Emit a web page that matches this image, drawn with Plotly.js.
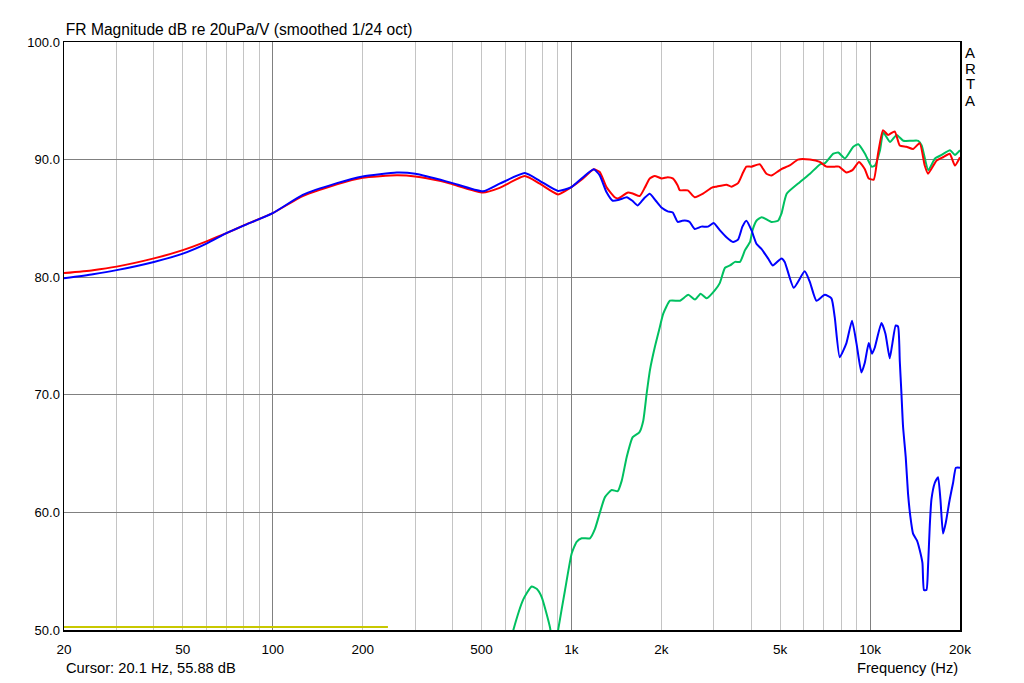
<!DOCTYPE html>
<html>
<head>
<meta charset="utf-8">
<script src="https://cdn.plot.ly/plotly-3.0.1.min.js"></script>
<style>
  html, body { margin: 0; padding: 0; background: #ffffff; }
  #chart { width: 1024px; height: 683px; }
</style>
</head>
<body>
<div id="chart"></div>
<script>
// ---- data ----
const redFreq = [20,25,30,40,50,60,70,80,100,126,164,200,260,300,362,400,506,575,698,783,902,1000,1094,1188,1244,1310,1396,1432,1547,1610,1693,1760,1829,1900,2006,2101,2184,2269,2304,2452,2587,2758,2943,3058,3304,3433,3613,3755,3854,4006,4270,4497,4673,4917,5048,5382,5737,6285,6787,7142,7614,7870,8332,8727,9183,9595,9896,10284,10631,11049,11483,12093,12571,13233,13925,14660,15238,15632,16679,17546,18475,19232,20000];
const redDb = [80.35,80.6,80.9,81.6,82.3,83.05,83.75,84.4,85.45,86.9,87.9,88.45,88.66,88.57,88.2,87.9,87.2,87.6,88.6,87.95,87.04,87.66,88.4,89.17,88.94,87.66,86.8,86.7,87.2,87.1,86.9,87.6,88.4,88.6,88.4,88.5,88.4,87.8,87.4,87.38,86.8,87.1,87.6,87.7,87.87,87.7,88.0,88.9,89.4,89.4,89.6,88.8,88.65,89.0,89.2,89.5,90.0,90.0,89.8,89.4,89.4,89.4,88.9,89.1,89.8,89.2,88.4,88.3,90.5,92.5,92.1,92.4,91.2,91.1,90.9,91.4,89.5,88.8,89.9,90.2,90.5,89.5,90.2];

const blueFreq = [20,25,30,40,50,60,70,80,100,126,164,200,260,300,362,400,506,575,698,783,902,1000,1094,1188,1244,1310,1375,1450,1532,1600,1667,1750,1829,1916,2006,2101,2184,2269,2350,2433,2489,2587,2724,2867,2995,3138,3304,3476,3613,3737,3854,4006,4163,4327,4553,4722,5048,5178,5551,6041,6285,6612,7049,7422,7614,7913,8332,8700,9000,9354,9595,9896,10150,10364,10914,11255,11635,11880,12186,12405,12571,12734,12893,13162,13397,13648,13925,14358,14660,14970,15156,15440,15632,15838,16048,16462,16884,17199,17546,17915,18475,18955,19380,20000];
const blueDb = [79.9,80.25,80.6,81.3,82.0,82.85,83.75,84.4,85.45,87.0,88.0,88.57,88.9,88.8,88.3,88.0,87.3,87.95,88.85,88.2,87.33,87.66,88.5,89.17,88.66,87.24,86.5,86.6,86.8,86.5,86.1,86.7,87.1,86.5,85.9,85.6,85.5,84.7,84.8,84.8,84.7,84.1,84.3,84.3,84.6,84.0,83.4,83.0,83.2,84.3,84.8,84.0,82.85,82.4,81.6,81.0,81.6,81.3,79.1,80.5,79.6,78.0,78.5,78.2,76.6,73.2,74.4,76.3,74.4,71.9,72.7,74.4,73.5,74.0,76.1,75.2,73.1,74.4,75.9,75.8,72.9,70.1,67.3,64.7,61.6,59.6,58.2,57.6,56.8,55.7,53.4,53.4,55.4,58.8,61.1,62.5,63.0,61.1,58.2,59.1,61.1,62.5,63.8,63.8];

const greenFreq = [560,639,690,736,765,795,848,875,904,952,1002,1041,1082,1154,1199,1246,1295,1364,1429,1474,1531,1604,1688,1740,1786,1832,1904,1979,2030,2138,2310,2462,2592,2708,2838,3024,3138,3268,3396,3530,3668,3812,3963,4040,4163,4336,4673,4917,5048,5257,5826,6293,6796,7064,7530,7826,8242,8786,9130,9614,10124,10386,10794,11072,11660,12276,12918,13780,14498,14884,15662,16496,17368,18512,19232,20000];
const greenDb = [44,50.0,52.6,53.7,53.5,52.8,50.2,47.5,50.1,53.4,56.5,57.5,57.8,57.8,58.6,60.0,61.3,61.9,61.8,62.7,64.7,66.4,66.8,67.8,70.1,72.1,74.1,75.8,76.9,78.0,78.0,78.5,78.1,78.6,78.2,78.9,79.5,80.8,81.0,81.3,81.3,82.3,83.0,84.0,84.8,85.1,84.7,84.8,85.4,87.1,88.1,88.8,89.6,89.7,90.5,90.6,90.1,91.1,91.3,90.5,89.4,89.5,90.8,92.3,91.5,92.1,91.6,91.6,91.6,91.2,89.1,90.1,90.4,90.8,90.4,90.8];

const yellowFreq = [20,243];
const yellowDb = [50.26,50.26];

const xTickVals = [20,30,40,50,60,70,80,90,100,200,300,400,500,600,700,800,900,1000,2000,3000,4000,5000,6000,7000,8000,9000,10000,20000];
const xTickText = ["20","","","50","","","","","100","200","","","500","","","","","1k","2k","","","5k","","","","","10k","20k"];
const xDecades = [100,1000,10000];
const yTickVals = [50,60,70,80,90,100];
const yTickText = ["50.0","60.0","70.0","80.0","90.0","100.0"];
const sideLetters = ["A","R","T","A"];

// ---- chart ----
const xr = [Math.log10(20), Math.log10(20000)];
function line(x, y, color, w) {
  return {x: x, y: y, type: 'scatter', mode: 'lines', xaxis: 'x', yaxis: 'y',
          line: {color: color, width: w, shape: 'spline', smoothing: 0.5},
          hoverinfo: 'skip', showlegend: false};
}
const traces = [
  {x: [20], y: [50], xaxis: 'x2', yaxis: 'y', type: 'scatter', mode: 'markers',
   marker: {opacity: 0}, hoverinfo: 'skip', showlegend: false},
  line(yellowFreq, yellowDb, '#c8c800', 2),
  line(greenFreq, greenDb, '#00c060', 2),
  line(redFreq, redDb, '#ff0000', 2),
  line(blueFreq, blueDb, '#0000ff', 2)
];

const font = {family: 'Liberation Sans, Arial, sans-serif', color: '#000000'};
const plotH = 588;
const annotations = [
  {text: 'Cursor: 20.1 Hz, 55.88 dB', xref: 'paper', yref: 'paper', x: 0, y: -(668-630)/plotH,
   xanchor: 'left', yanchor: 'middle', showarrow: false, font: Object.assign({size: 14.7}, font)},
  {text: 'Frequency (Hz)', xref: 'paper', yref: 'paper', x: 1, y: -(668-630)/plotH,
   xanchor: 'right', yanchor: 'middle', showarrow: false, font: Object.assign({size: 14.7}, font)}
];
sideLetters.forEach(function(ch, i) {
  annotations.push({text: ch, xref: 'paper', yref: 'paper', x: 1, xshift: 10,
    y: 1 - (10 + 16 * i) / plotH, xanchor: 'center', yanchor: 'middle', showarrow: false,
    font: Object.assign({size: 15}, font)});
});

const layout = {
  width: 1024, height: 683,
  margin: {l: 64, r: 64, t: 42, b: 53, pad: 0},
  paper_bgcolor: '#ffffff', plot_bgcolor: '#ffffff',
  showlegend: false,
  font: Object.assign({size: 13}, font),
  title: {text: 'FR Magnitude dB re 20uPa/V (smoothed 1/24 oct)',
          font: Object.assign({size: 15.6}, font),
          xref: 'paper', x: 0.002, xanchor: 'left',
          yref: 'container', y: 1 - 30/683, yanchor: 'middle'},
  xaxis: {type: 'log', range: xr, tickmode: 'array', tickvals: xTickVals, ticktext: xTickText,
          showgrid: true, gridcolor: '#c4c4c4', gridwidth: 1, ticks: '', ticklabelstandoff: 6,
          showline: true, linecolor: '#000000', linewidth: 1.5, mirror: true,
          zeroline: false, tickfont: Object.assign({size: 13.5}, font), fixedrange: true},
  xaxis2: {type: 'log', range: xr, overlaying: 'x', tickmode: 'array', tickvals: xDecades,
          showticklabels: false, showgrid: true, gridcolor: '#808080', gridwidth: 1, ticks: '',
          showline: false, zeroline: false, fixedrange: true},
  yaxis: {range: [50, 100], tickmode: 'array', tickvals: yTickVals, ticktext: yTickText,
          showgrid: true, gridcolor: '#808080', gridwidth: 1, ticks: '',
          showline: true, linecolor: '#000000', linewidth: 1.5, mirror: true,
          zeroline: false, tickfont: Object.assign({size: 13}, font), fixedrange: true},
  annotations: annotations
};
Plotly.newPlot('chart', traces, layout, {staticPlot: true, displayModeBar: false});
</script>
</body>
</html>
